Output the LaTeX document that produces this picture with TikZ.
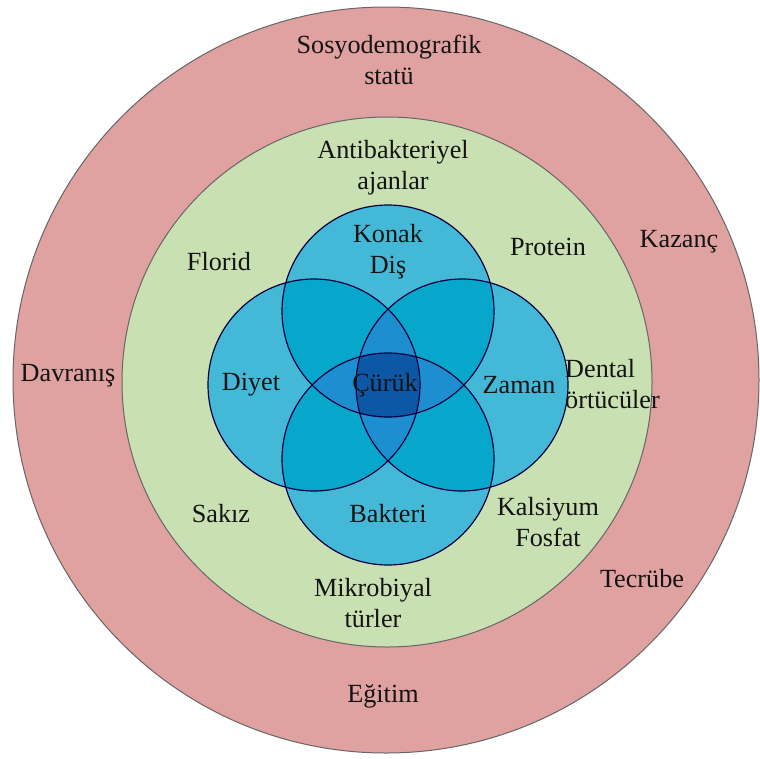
\documentclass[tikz,border=0pt]{standalone}
\usepackage{fontspec}
\setmainfont{Liberation Serif}

\definecolor{ring}{HTML}{E0A1A1}
\definecolor{leaf}{HTML}{C9E0B3}
\definecolor{blueA}{HTML}{44B9D7}
\definecolor{blueB}{HTML}{07A6CB}
\definecolor{blueC}{HTML}{1D8FD0}
\definecolor{blueD}{HTML}{0D58A6}

\begin{document}
\begin{tikzpicture}[x=1pt,y=-1pt,
    lbl/.style={font=\fontsize{26.2}{31}\selectfont, align=center, text=black!92, inner sep=0pt},
    rim/.style={draw=black!60, line width=1pt},
    venn/.style={draw=black!75!blue, line width=1.2pt}]
\useasboundingbox (0,0) rectangle (760,758);
\fill[white] (0,0) rectangle (760,758);

% rings
\filldraw[rim, fill=ring] (386,380) circle (373);
\filldraw[rim, fill=leaf] (387,382) circle (265);

% four circles
\coordinate (T) at (388,311);
\coordinate (L) at (314,385);
\coordinate (R) at (462,385);
\coordinate (B) at (388,459);
\foreach \c in {T,L,R,B}
    \fill[blueA] (\c) circle (106);
\foreach \p/\q in {T/L,T/R,B/L,B/R,L/R,T/B}
    {\begin{scope}\clip (\p) circle (106); \fill[blueB] (\q) circle (106);\end{scope}}
\foreach \p/\q/\r in {L/R/T,L/R/B,T/B/L,T/B/R}
    {\begin{scope}\clip (\p) circle (106); \clip (\q) circle (106); \fill[blueC] (\r) circle (106);\end{scope}}
\begin{scope}
    \clip (T) circle (106); \clip (B) circle (106); \clip (L) circle (106);
    \fill[blueD] (R) circle (106);
\end{scope}
\foreach \c in {T,L,R,B}
    \draw[venn] (\c) circle (106);

% outer ring
\node[lbl] (sosyo) at (389,60) {Sosyodemografik\\statü};
\node[lbl] (kazanc) at (679,242) {Kazanç};
\node[lbl] (davranis) at (68,376) {Davranış};
\node[lbl] (tecrube) at (642,579) {Tecrübe};
\node[lbl] (egitim) at (383,696) {Eğitim};

% green ring
\node[lbl] (antibak) at (393,168) {Antibakteriyel\\ajanlar};
\node[lbl] (florid) at (219,262) {Florid};
\node[lbl] (protein) at (548,247) {Protein};
\node[lbl, align=left, anchor=west] (dental) at (565,384) {Dental\\örtücüler};
\node[lbl] (sakiz) at (221,514) {Sakız};
\node[lbl] (kalsiyum) at (548,522) {Kalsiyum\\Fosfat};
\node[lbl] (mikro) at (373,603) {Mikrobiyal\\türler};

% circles
\node[lbl] (konak) at (388,252) {Konak\\Diş};
\node[lbl] (diyet) at (251,385) {Diyet};
\node[lbl] (curuk) at (385,385) {Çürük};
\node[lbl] (zaman) at (519,385) {Zaman};
\node[lbl] (bakteri) at (388,514) {Bakteri};
\end{tikzpicture}
\end{document}
